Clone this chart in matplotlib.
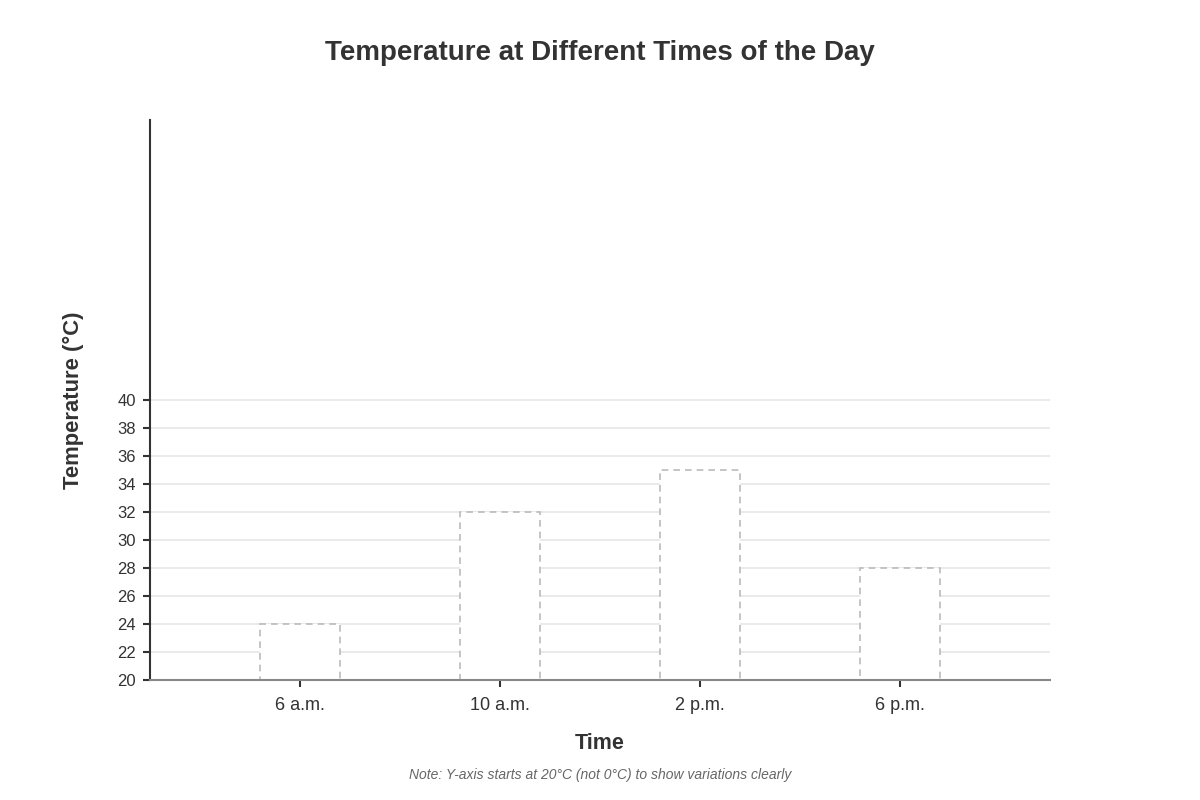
import numpy as np
import matplotlib.pyplot as plt

plt.rcParams['font.family'] = ['Liberation Sans', 'DejaVu Sans']

# data
times = ['6 a.m.', '10 a.m.', '2 p.m.', '6 p.m.']
temps = [24, 32, 35, 28]
y_ticks = list(range(20, 41, 2))
y_min, y_max = 20, 60

fig = plt.figure(figsize=(12, 8), dpi=100)
ax = fig.add_axes([0.125, 0.15, 0.75, 0.70])

x = np.arange(len(times))
# grid lines only over the tick range
for t in y_ticks:
    ax.axhline(t, color='#e6e6e6', lw=1.2, zorder=0)

ax.bar(x, [t - y_min for t in temps], bottom=y_min, width=0.4,
       facecolor='white', edgecolor='#bbbbbb', linestyle=(0, (4, 3)),
       linewidth=1.2, zorder=2)

ax.set_xlim(-0.75, len(times) - 0.25)
ax.set_ylim(y_min, y_max)
ax.set_xticks(x)
ax.set_xticklabels(times)
ax.set_yticks(y_ticks)

ax.spines['top'].set_visible(False)
ax.spines['right'].set_visible(False)
ax.spines['left'].set_color('#333333')
ax.spines['left'].set_linewidth(1.5)
ax.spines['bottom'].set_color('#888888')
ax.spines['bottom'].set_linewidth(1.5)
ax.tick_params(axis='both', colors='#333333', length=5, width=1.5)
ax.tick_params(axis='x', pad=7, labelsize=13)
ax.tick_params(axis='y', pad=5, labelsize=12)

ax.set_xlabel('Time', fontsize=15.5, fontweight='bold', color='#333333', labelpad=14)
ax.set_ylabel('Temperature (°C)', fontsize=15.8, fontweight='bold', color='#333333')
ax.yaxis.set_label_coords(-0.073, 0.5)

fig.text(0.5, 0.934, 'Temperature at Different Times of the Day', ha='center', va='center',
         fontsize=20, fontweight='bold', color='#333333')
fig.text(0.5, 0.031, 'Note: Y-axis starts at 20°C (not 0°C) to show variations clearly',
         ha='center', va='center', fontsize=10, style='italic', color='#666666')

fig.savefig('out.png', dpi=100)
